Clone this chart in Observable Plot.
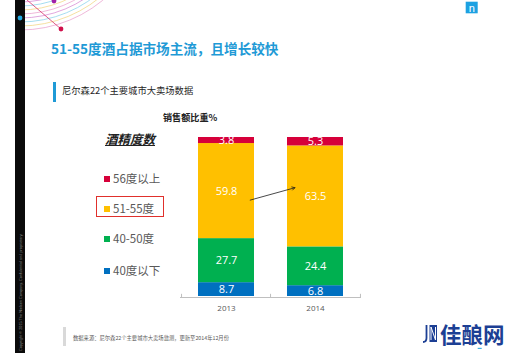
<!DOCTYPE html>
<html><head><meta charset="utf-8">
<script src="https://cdn.jsdelivr.net/npm/d3@7"></script>
<script src="https://cdn.jsdelivr.net/npm/@observablehq/plot@0.6"></script>
<style>
html,body{margin:0;padding:0;background:#fff;}
#wrap{position:relative;width:520px;height:353px;overflow:hidden;background:#fff;font-family:"Noto Sans CJK SC","Noto Sans",sans-serif;}
#wrap > *{position:absolute;}
.t{white-space:nowrap;line-height:1;}
</style></head><body><div id="wrap"></div>
<script>
// ---- data ----
const years = ["2013", "2014"];
const categories = ["40度以下", "40-50度", "51-55度", "56度以上"];
const colors = ["#0070c0", "#00b050", "#ffc000", "#d6003a"];
const values2013 = [8.7, 27.7, 59.8, 3.8];
const values2014 = [6.8, 24.4, 63.5, 5.3];
const legendOrder = ["56度以上", "51-55度", "40-50度", "40度以下"];
const highlighted = "51-55度";
const arrowStart = {x: "2013", y: 56.5};
const arrowEnd = {x: "2014", y: 72};
const titleText = "51-55度酒占据市场主流，且增长较快";
const subtitleText = "尼尔森22个主要城市大卖场数据";
const yLabelText = "销售额比重%";
const legendTitle = "酒精度数";
const sourceText = "数据来源：尼尔森22个主要城市大卖场监测，更新至2014年12月份";
const copyrightText = "Copyright © 2015 The Nielsen Company. Confidential and proprietary.";

const seriesByYear = [values2013, values2014];
const data = [];
years.forEach((yr, j) => categories.forEach((c, i) => data.push({year: yr, cat: c, value: seriesByYear[j][i]})));

const wrap = document.getElementById("wrap");

// ---- decoration ----
const NS = "http://www.w3.org/2000/svg";
const deco = document.createElementNS(NS, "svg");
deco.setAttribute("width", 520); deco.setAttribute("height", 353);
deco.style.left = "0px"; deco.style.top = "0px";
let dh = `<defs><clipPath id="cl"><rect x="25" y="0" width="200" height="60"/></clipPath></defs><g clip-path="url(#cl)" fill="none" stroke-width="0.7">`;
const arcCols = ["#d27fd0", "#7fcfe8", "#f0d27a", "#e89ac8"];
for (let k = 0; k < 8; k++) {
  dh += `<circle cx="20" cy="-100" r="${102 + k * 4}" stroke="${arcCols[k % 4]}"/>`;
}
dh += `<line x1="27" y1="0" x2="61" y2="29" stroke="#d8326a" stroke-width="0.8"/></g>`;
dh += `<rect x="15" y="0" width="10" height="353" fill="#0b0b0b"/>`;
dh += `<text transform="translate(21.5,351) rotate(-90)" font-size="3.8" fill="#8a8a8a" font-family="Liberation Sans">${copyrightText}</text>`;
dh += `<circle cx="61" cy="29" r="2.4" fill="#d0104c"/><circle cx="54" cy="1" r="2.4" fill="#a020a8"/><circle cx="20" cy="18" r="2.4" fill="#22a8e0"/>`;
// nielsen logo
dh += `<rect x="465.7" y="1.7" width="12" height="11.6" fill="#1da1e2"/><text x="471.7" y="11.5" text-anchor="middle" font-size="11" fill="#fff" font-family="Liberation Sans">n</text>`;
// source bar & subtitle bar
dh += `<rect x="63" y="327" width="3" height="19" fill="#d9d9d9"/>`;
dh += `<rect x="53" y="82" width="3" height="20" fill="#1f9ad6"/>`;
// JN icon
dh += `<path d="M426.5 325 V338 Q426.5 342 423 342" fill="none" stroke="#1c3f94" stroke-width="1.8"/>`;
dh += `<rect x="429.5" y="325" width="7.5" height="17" fill="#1c3f94"/><path d="M431 340 V327 L435.5 340 V327" fill="none" stroke="#fff" stroke-width="1"/>`;
dh += `<rect x="477.7" y="347.8" width="4" height="1.2" fill="#40b0e0"/>`;
deco.innerHTML = dh;
wrap.appendChild(deco);

// ---- chart ----
const W = 520, H = 353, ML = 180, MR = 159, MT = 137, MB = 57, PI = 0.367, PO = 0.19;
const step = (W - ML - MR) / (years.length - PI + 2 * PO);
const chart = Plot.plot({
  width: W, height: H,
  marginLeft: ML, marginRight: MR, marginTop: MT, marginBottom: MB,
  style: {background: "transparent", fontFamily: "Open Sans", overflow: "visible"},
  x: {domain: years, paddingInner: PI, paddingOuter: PO, label: null},
  y: {domain: [0, 100], axis: null},
  color: {domain: categories, range: colors},
  marks: [
    Plot.barY(data, {x: "year", y: "value", fill: "cat"}),
    Plot.ruleY([0], {stroke: "#bfbfbf", dy: 1}),
    Plot.ruleX(years, {x: d => d, y1: 0, y2: 2, dx: -step / 2, dy: 1, stroke: "#bfbfbf"}),
    Plot.ruleX([years[years.length - 1]], {x: d => d, y1: 0, y2: 2, dx: step / 2, dy: 1, stroke: "#bfbfbf"}),
    Plot.text(data, Plot.stackY({x: "year", y: "value", z: "cat", text: d => d.value.toFixed(1), fill: "white", fontSize: 11})),
    Plot.arrow([{a: arrowStart, b: arrowEnd}], {x1: d => d.a.x, y1: d => d.a.y, x2: d => d.b.x, y2: d => d.b.y,
      insetStart: 24.6, insetEnd: 21.4, stroke: "#1a1a1a", strokeWidth: 0.8, headLength: 6}),
    Plot.axisX({tickSize: 0, tickPadding: 9, fontSize: 8, color: "#595959", label: null})
  ]
});
chart.style.left = "0px"; chart.style.top = "0px";
wrap.appendChild(chart);

// ---- text overlays ----
function addText(txt, x, cy, fs, css) {
  const d = document.createElement("div");
  d.className = "t";
  d.textContent = txt;
  d.style.left = x + "px";
  d.style.top = (cy - fs / 2) + "px";
  d.style.fontSize = fs + "px";
  Object.assign(d.style, css || {});
  wrap.appendChild(d);
  return d;
}
addText(titleText, 51, 49, 13.6, {fontWeight: "bold", color: "#1f9ad6"});
addText(subtitleText, 62, 91, 9.3, {color: "#262626"});
addText(yLabelText, 163, 118, 9.1, {fontWeight: "bold", color: "#222"});
addText(legendTitle, 105, 139, 12.5, {fontWeight: "bold", fontStyle: "italic", textDecoration: "underline", color: "#222"});
const rowY = [179, 209, 239, 270.5];
legendOrder.forEach((c, i) => {
  const sq = document.createElement("div");
  sq.style.left = "104px"; sq.style.top = (rowY[i] - 3) + "px";
  sq.style.width = "6px"; sq.style.height = "6px";
  sq.style.background = colors[categories.indexOf(c)];
  wrap.appendChild(sq);
  addText(c, 113, rowY[i], 11.5, {color: "#595959"});
  if (c === highlighted) {
    const b = document.createElement("div");
    b.style.left = "96px"; b.style.top = (rowY[i] - 12.7) + "px";
    b.style.width = "66px"; b.style.height = "19px";
    b.style.border = "1px solid #e0302c";
    wrap.appendChild(b);
  }
});
addText(sourceText, 73, 339, 5.3, {color: "#595959"});
addText("佳酿网", 440, 334, 21.5, {fontWeight: "bold", color: "#1c3f94"});
</script></body></html>
